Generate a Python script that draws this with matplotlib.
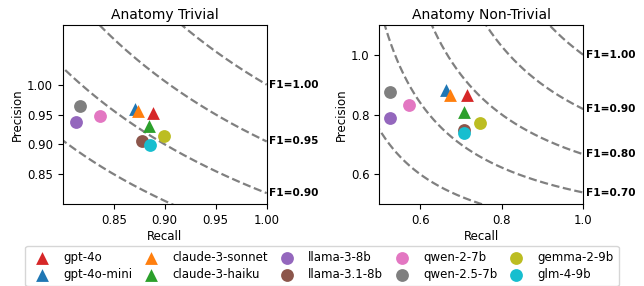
import numpy as np
import matplotlib.pyplot as plt

models = ["gpt-4o", "gpt-4o-mini", "claude-3-sonnet", "claude-3-haiku",
          "llama-3-8b", "llama-3.1-8b", "qwen-2-7b", "qwen-2.5-7b",
          "gemma-2-9b", "glm-4-9b"]
colors = ["tab:red", "tab:blue", "tab:orange", "tab:green",
          "tab:purple", "tab:brown", "tab:pink", "tab:gray",
          "tab:olive", "tab:cyan"]
markers = ["^", "^", "^", "^", "o", "o", "o", "o", "o", "o"]

# Anatomy Trivial
triv_recall = [0.889, 0.871, 0.874, 0.885, 0.813, 0.878, 0.837, 0.817, 0.899, 0.886]
triv_precision = [0.953, 0.960, 0.956, 0.930, 0.937, 0.906, 0.948, 0.964, 0.914, 0.899]

# Anatomy Non-Trivial
nontriv_recall = [0.716, 0.664, 0.673, 0.708, 0.526, 0.708, 0.574, 0.526, 0.748, 0.708]
nontriv_precision = [0.866, 0.881, 0.866, 0.810, 0.788, 0.748, 0.831, 0.876, 0.773, 0.737]

triv_f1 = [0.85, 0.90, 0.95, 1.00]
nontriv_f1 = [0.6, 0.7, 0.8, 0.9, 1.0]

FS = 8.5


def draw_panel(ax, recall, precision, f1s, title, xlim, ylim, xticks, yticks):
    r = np.linspace(0.3, 1.0, 400)
    for f in f1s:
        p = f * r / (2 * r - f)
        p[2 * r - f <= 0] = np.nan
        ax.plot(r, p, ls="--", color="gray", lw=1.6, zorder=1)
        p_end = f / (2 - f)
        if ylim[0] <= p_end <= ylim[1]:
            ax.annotate(f"F1={f:.2f}", xy=(1.0, p_end), xycoords="data",
                        xytext=(2, 0), textcoords="offset points",
                        va="center", ha="left", fontsize=7.6, fontweight="bold",
                        annotation_clip=False)
    for i, m in enumerate(models):
        ax.scatter(recall[i], precision[i], s=85, color=colors[i],
                   marker=markers[i], label=m, zorder=3, linewidths=0)
    ax.set_xlim(*xlim)
    ax.set_ylim(*ylim)
    ax.set_xticks(xticks)
    ax.set_yticks(yticks)
    ax.tick_params(labelsize=FS)
    ax.set_xlabel("Recall", fontsize=FS, labelpad=2)
    ax.set_ylabel("Precision", fontsize=FS, labelpad=2)
    ax.set_title(title, fontsize=10, pad=4)


fig = plt.figure(figsize=(6.44, 2.86), dpi=100)
ax1 = fig.add_axes([62.7 / 644, 1 - 204 / 286, 204 / 644, 179 / 286])
ax2 = fig.add_axes([379.3 / 644, 1 - 204 / 286, 204 / 644, 179 / 286])

draw_panel(ax1, triv_recall, triv_precision, triv_f1, "Anatomy Trivial",
           (0.80, 1.00), (0.80, 1.10), [0.85, 0.90, 0.95, 1.00],
           [0.85, 0.90, 0.95, 1.00])
draw_panel(ax2, nontriv_recall, nontriv_precision, nontriv_f1,
           "Anatomy Non-Trivial", (0.5, 1.0), (0.5, 1.1),
           [0.6, 0.8, 1.0], [0.6, 0.8, 1.0])

handles, labels = ax1.get_legend_handles_labels()
fig.legend(handles, labels, loc="upper center", ncol=5,
           bbox_to_anchor=(0.5, 1 - 246 / 286), fontsize=FS,
           columnspacing=0.6, handletextpad=0.8, borderaxespad=0,
           labelspacing=0.4)

fig.savefig("out.png", dpi=100)
